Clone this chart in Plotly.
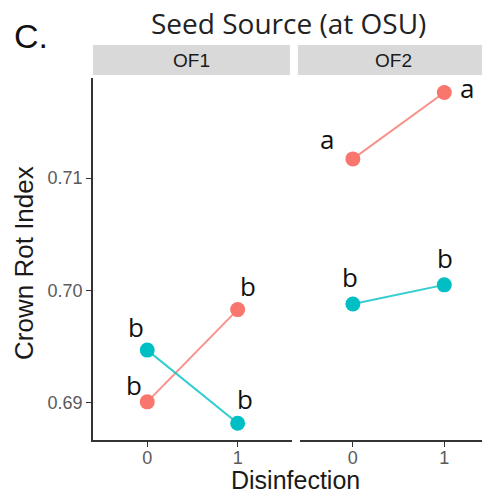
import plotly.graph_objects as go

panels = ["OF1", "OF2"]
disinfection = [0, 1]
red_vals = {"OF1": [0.6901, 0.6983], "OF2": [0.7117, 0.7176]}
teal_vals = {"OF1": [0.6947, 0.6882], "OF2": [0.6988, 0.7005]}
red_letters = {"OF1": ["b", "b"], "OF2": ["a", "a"]}
teal_letters = {"OF1": ["b", "b"], "OF2": ["b", "b"]}
y_ticks = [0.69, 0.70, 0.71]
y_ticklabels = ["0.69", "0.70", "0.71"]

RED = "#F8766D"
TEAL = "#00BFC4"
RED_LINE = "rgba(248,118,109,0.8)"
TEAL_LINE = "rgba(0,191,196,0.8)"

# label pixel offsets (style)
red_offsets = {"OF1": [(-13, 17), (10, 24), ], "OF2": [(-26, 20), (23, 5)]}
teal_offsets = {"OF1": [(-11, 23), (7, 24)], "OF2": [(-3, 27), (1, 27)]}

fig = go.Figure()
annotations = []
for i, p in enumerate(panels):
    xa = "x" if i == 0 else "x2"
    for vals, col, lcol, letters, offs in [
        (red_vals[p], RED, RED_LINE, red_letters[p], red_offsets[p]),
        (teal_vals[p], TEAL, TEAL_LINE, teal_letters[p], teal_offsets[p]),
    ]:
        fig.add_trace(go.Scatter(
            x=disinfection, y=vals, xaxis=xa, yaxis="y",
            mode="lines+markers",
            line=dict(color=lcol, width=2),
            marker=dict(color=col, size=15),
            showlegend=False, hoverinfo="skip",
        ))
        for xv, yv, lt, (dx, dy) in zip(disinfection, vals, letters, offs):
            annotations.append(dict(
                x=xv, y=yv, xref=xa, yref="y", text=lt, showarrow=False,
                xshift=dx, yshift=dy, xanchor="center", yanchor="middle",
                font=dict(family="Open Sans", size=26, color="#111111"),
            ))

x1_dom = [0, 0.501]
x2_dom = [0.521, 1]

# strips
shapes = []
for dom, p in [((0, 0.496), "OF1"), ((0.516, 1.0), "OF2")]:
    shapes.append(dict(type="rect", xref="paper", yref="paper",
                       x0=dom[0], x1=dom[1], y0=1.008, y1=1.091,
                       fillcolor="#d9d9d9", line=dict(width=0), layer="below"))
    annotations.append(dict(x=(dom[0] + dom[1]) / 2, y=1.0497, xref="paper", yref="paper",
                            text=p, showarrow=False, xanchor="center", yanchor="middle",
                            font=dict(family="Liberation Sans", size=19, color="#1a1a1a")))

annotations.append(dict(x=0.492, y=1.153, xref="paper", yref="paper", text="Seed Source (at OSU)",
                        showarrow=False, xanchor="center", yanchor="middle",
                        font=dict(family="Open Sans", size=28, color="#222222")))
annotations.append(dict(x=-0.205, y=1.115, xref="paper", yref="paper", text="C.", xanchor="left",
                        yanchor="middle",
                        showarrow=False, font=dict(family="Liberation Sans", size=34, color="#111111")))
annotations.append(dict(x=0.511, y=-0.11, xref="paper", yref="paper", text="Disinfection",
                        showarrow=False, xanchor="center", yanchor="middle",
                        font=dict(family="Liberation Sans", size=25, color="#1a1a1a")))
annotations.append(dict(x=-0.174, y=0.489, xref="paper", yref="paper", text="Crown Rot Index",
                        textangle=-90, showarrow=False, xanchor="center", yanchor="middle",
                        font=dict(family="Liberation Sans", size=26, color="#1a1a1a")))

axis_common = dict(showgrid=False, zeroline=False, showline=True, linecolor="#333333", linewidth=1.5,
                   ticks="outside", ticklen=5, tickcolor="#333333", tickwidth=1.2, automargin=False,
                   tickfont=dict(family="Liberation Sans", size=18, color="#5a5a5a"))

# the page body adds an 8px offset, so the figure is 8px smaller and margins shifted
fig.update_layout(
    width=482, height=486,
    margin=dict(l=85, r=0, t=70, b=54, autoexpand=False),
    paper_bgcolor="white", plot_bgcolor="white",
    xaxis=dict(domain=x1_dom, range=[-0.6, 1.6], tickvals=disinfection, ticktext=["0", "1"],
               anchor="y", ticklabelstandoff=-4, **axis_common),
    xaxis2=dict(domain=x2_dom, range=[-0.58, 1.5], tickvals=disinfection, ticktext=["0", "1"],
                anchor="y", ticklabelstandoff=-4, **axis_common),
    yaxis=dict(domain=[0, 1], range=[0.68671, 0.71889], tickvals=y_ticks, ticktext=y_ticklabels,
               **axis_common),
    shapes=shapes,
    annotations=annotations,
)

fig.write_html("out.html")
